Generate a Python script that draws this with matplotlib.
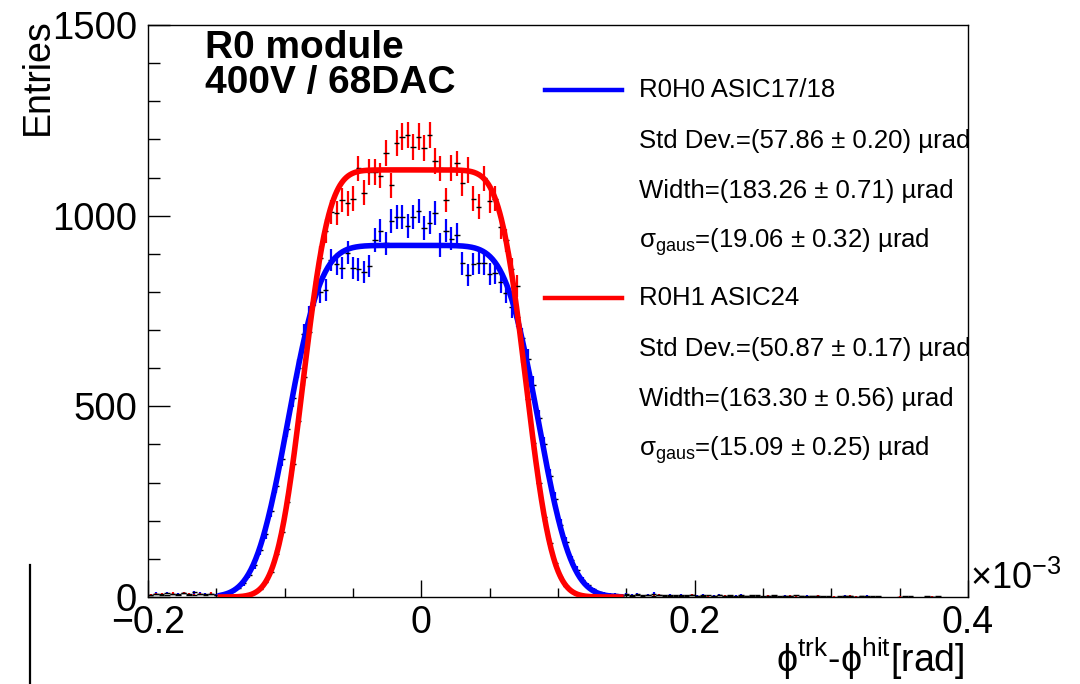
import math
import numpy as np
import matplotlib
matplotlib.use("Agg")
import matplotlib.pyplot as plt
from matplotlib.lines import Line2D
from matplotlib.ticker import MultipleLocator, FixedLocator

plt.rcParams['font.family'] = ['Liberation Sans', 'DejaVu Sans']
plt.rcParams['mathtext.fontset'] = 'custom'
plt.rcParams['mathtext.rm'] = 'Liberation Sans'
plt.rcParams['mathtext.it'] = 'Liberation Sans:italic'
plt.rcParams['mathtext.bf'] = 'Liberation Sans:bold'

# ---------------- data (histogram axis definition, in units of 1e-3 rad) ----
hist_lo = -0.2
hist_hi = 0.4
n_bins = 150

# R0H0 ASIC17/18 (blue) bin contents
blue_counts = [
    6, 9, 5, 11, 7, 8, 10, 6, 12, 9, 7, 8, 6,
    7, 10, 15, 24, 36, 58, 83, 122, 165, 225, 290, 362, 440, 522, 600, 690,
    735, 790, 800, 805, 884, 873, 862, 903, 862, 859, 853, 868, 936, 961,
    928, 987, 997, 997, 973, 997, 1012,
    967, 982, 1008, 923, 961, 940, 949, 875, 845, 873, 877, 875, 847, 850,
    825, 798, 760, 735, 680, 625, 555, 470, 400, 318, 258, 190, 145, 98, 72,
    45, 31, 20, 12, 9, 7, 8, 6,
    7, 5, 8, 4, 6, 9, 5, 4, 6, 3, 5, 4, 6, 3, 5, 4, 3, 5, 2, 4,
    3, 5, 2, 3, 4, 2, 3, 4, 2, 3, 2, 4, 2, 3, 2, 3, 2, 1, 0, 2,
    3, 2, 1, 2, 3, 2, 1, 0, 0, 0, 0, 2, 1, 0, 0, 2, 1, 2, 0, 0,
    0, 0, 0,
]

# R0H1 ASIC24 (red) bin contents
red_counts = [
    5, 8, 7, 4, 9, 6, 10, 7, 5, 8, 6, 9, 4,
    3, 2, 2, 3, 4, 7, 12, 22, 40, 66, 112, 170, 250, 348, 462, 578,
    695, 800, 890, 960, 1010, 1006, 1041, 1032, 1045, 1124, 1060, 1115, 1115,
    1105, 1164, 1080, 1190, 1207, 1212, 1181, 1207,
    1177, 1212, 1143, 1124, 1041, 1125, 1137, 1085, 1120, 1045, 1024, 1098,
    1039, 1045, 969, 935, 860, 815, 640, 520, 405, 300, 210, 142, 88, 52, 30,
    16, 9, 5, 4, 6, 5, 3, 4, 2, 3,
    4, 3, 5, 2, 4, 3, 6, 2, 3, 4, 2, 3, 5, 2, 3, 1, 2, 4, 3, 2,
    1, 3, 2, 4, 2, 1, 3, 2, 1, 2, 3, 1, 2, 1, 2, 3, 1, 2, 1, 0,
    2, 3, 1, 2, 1, 0, 2, 0, 0, 0, 1, 0, 2, 0, 0, 0, 1, 0, 0, 0,
    0, 0, 0,
]

# fit parameters (box convolved with gaussian), units of 1e-3 rad
blue_fit = dict(amp=922.0, center=-0.006, width=0.18326, sigma=0.01906)
red_fit = dict(amp=1120.0, center=-0.005, width=0.16330, sigma=0.01509)
fit_range = (-0.147, 0.146)

x_ticks = [-0.2, 0.0, 0.2, 0.4]
x_ticklabels = ["\u22120.2", "0", "0.2", "0.4"]
y_ticks = [0, 500, 1000, 1500]
y_ticklabels = ["0", "500", "1000", "1500"]

blue_label = ["R0H0 ASIC17/18",
              "Std Dev.=(57.86 ± 0.20) µrad",
              "Width=(183.26 ± 0.71) µrad",
              r"σ$_{\mathrm{gaus}}$=(19.06 ± 0.32) µrad"]
red_label = ["R0H1 ASIC24",
             "Std Dev.=(50.87 ± 0.17) µrad",
             "Width=(163.30 ± 0.56) µrad",
             r"σ$_{\mathrm{gaus}}$=(15.09 ± 0.25) µrad"]

assert len(blue_counts) == n_bins and len(red_counts) == n_bins

# ---------------- figure ----------------
W, H = 1080, 684
fig = plt.figure(figsize=(W / 100, H / 100), dpi=100)
ax = fig.add_axes([148 / W, 1 - 597 / H, 820 / W, 572 / H])

bw = (hist_hi - hist_lo) / n_bins
centers = hist_lo + bw * (np.arange(n_bins) + 0.5)

erf = np.vectorize(math.erf)


def box_gauss(x, amp, center, width, sigma):
    a = center - width / 2
    b = center + width / 2
    s = math.sqrt(2) * sigma
    return amp / 2 * (erf((x - a) / s) - erf((x - b) / s))


def draw_hist(counts, color):
    y = np.asarray(counts, float)
    m = y > 0
    ax.errorbar(centers[m], y[m], yerr=np.sqrt(y[m]), fmt='none',
                ecolor=color, elinewidth=1.6, capsize=0, zorder=3)
    ax.errorbar(centers[m], y[m], xerr=bw / 2, fmt='none',
                ecolor='black', elinewidth=1.0, capsize=0, zorder=3.1)


xs = np.linspace(fit_range[0], fit_range[1], 500)
draw_hist(blue_counts, 'blue')
ax.plot(xs, box_gauss(xs, **blue_fit), color='blue', lw=4.0, zorder=4)
draw_hist(red_counts, 'red')
ax.plot(xs, box_gauss(xs, **red_fit), color='red', lw=4.0, zorder=5)

ax.set_xlim(hist_lo, hist_hi)
ax.set_ylim(0, 1500)

ax.xaxis.set_major_locator(FixedLocator(x_ticks))
ax.xaxis.set_minor_locator(MultipleLocator(0.05))
ax.yaxis.set_major_locator(FixedLocator(y_ticks))
ax.yaxis.set_minor_locator(MultipleLocator(100))
ax.set_xticklabels(x_ticklabels)
ax.set_yticklabels(y_ticklabels)

ax.tick_params(axis='both', which='both', direction='in', top=False,
               right=False, width=1.0, colors='black')
ax.xaxis.set_tick_params(which='major', length=12, pad=6, labelsize=27)
ax.xaxis.set_tick_params(which='minor', length=6.5)
ax.yaxis.set_tick_params(which='major', length=16, pad=8, labelsize=27.5)
ax.yaxis.set_tick_params(which='minor', length=8.5)
for sp in ax.spines.values():
    sp.set_linewidth(1.0)
    sp.set_color('black')

# axis titles
fig.text(38 / W, 1 - 18 / H, "Entries", rotation=90, ha='center', va='top',
         fontsize=27)
fig.text(965 / W, 1 - 682 / H,
         r"ϕ$^{\mathrm{trk}}$-ϕ$^{\mathrm{hit}}$[rad]",
         ha='right', va='bottom', fontsize=27)
fig.text(970 / W, 1 - 597 / H, r"×10$^{-3}$", ha='left', va='bottom',
         fontsize=26)

# header text
fig.text(205 / W, 1 - 58 / H, "R0 module", fontsize=28, fontweight='bold',
         ha='left', va='baseline')
fig.text(205 / W, 1 - 93 / H, "400V / 68DAC", fontsize=28, fontweight='bold',
         ha='left', va='baseline')


# legend
def legend_block(lines, color, y0):
    fig.add_artist(Line2D([545 / W, 622 / W], [1 - y0 / H, 1 - y0 / H],
                          color=color, lw=3.2))
    ys = [y0, y0 + 51, y0 + 101, y0 + 152]
    for t, yy in zip(lines, ys):
        fig.text(639 / W, 1 - yy / H, t, fontsize=18.5, ha='left',
                 va='center')


legend_block(blue_label, 'blue', 90)
legend_block(red_label, 'red', 298)

# stray vertical line at lower left of canvas
fig.add_artist(Line2D([30 / W, 30 / W], [0, 1 - 565 / H], color='black',
                      lw=1.6))

fig.savefig("out.png", dpi=100)
